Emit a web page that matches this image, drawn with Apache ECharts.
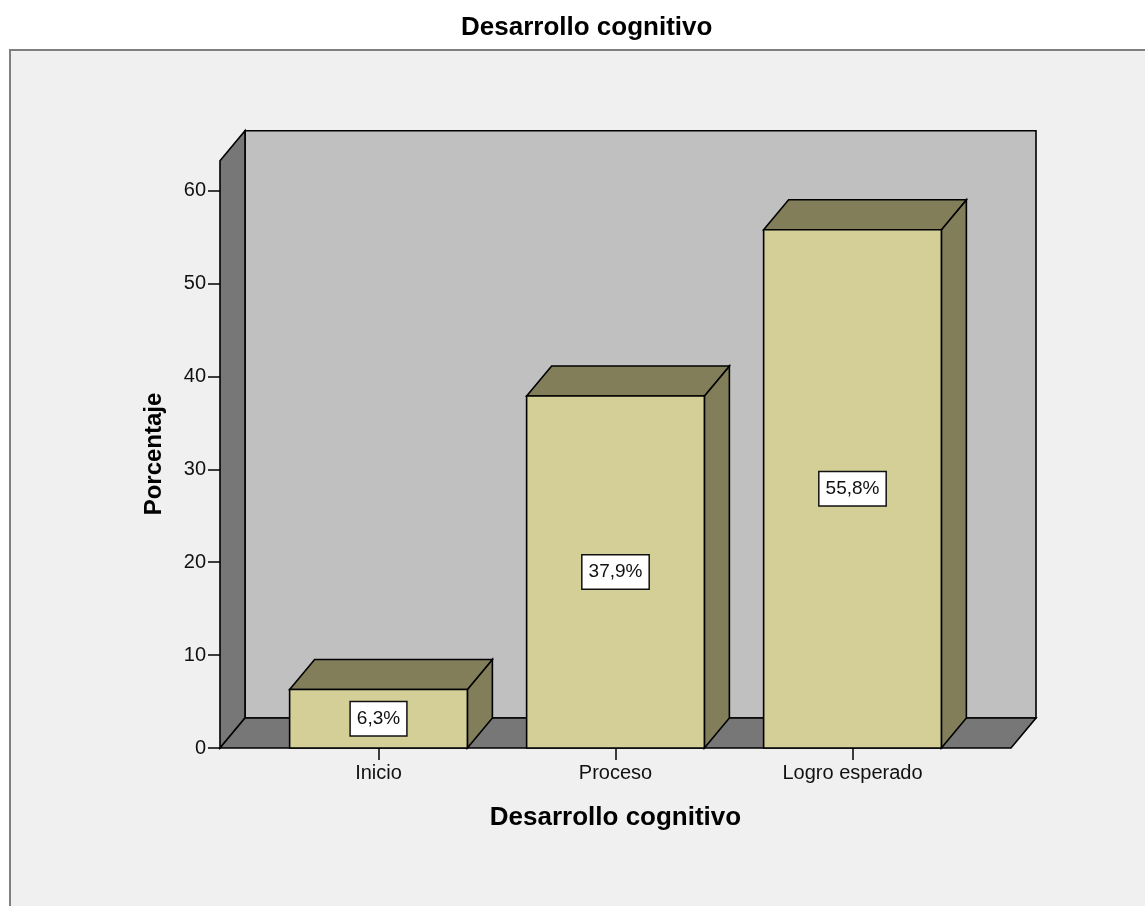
<!DOCTYPE html>
<html>
<head>
<meta charset="utf-8">
<script src="https://cdn.jsdelivr.net/npm/echarts@6/dist/echarts.min.js"></script>
<style>
  html, body { margin: 0; padding: 0; background: #ffffff; }
  #chart { width: 1145px; height: 906px; }
</style>
</head>
<body>
<div id="chart"></div>
<script>
// Chart text
const chartTitle = 'Desarrollo cognitivo';
const xAxisName = 'Desarrollo cognitivo';
const yAxisName = 'Porcentaje';

// Data
const categories = ['Inicio', 'Proceso', 'Logro esperado'];
const percentages = [6.3, 37.9, 55.8];

// Value axis ticks
const yMin = 0;
const yMax = 60;
const yInterval = 10;

// 3D look: depth offset of walls and bars, floor padding, wall height above top tick
const DX = 25, DY = 30;
const WALL_PAD = 40;
const WALL_EXT = 30;
const BAR_RATIO = 0.75;

const FONT = '"Liberation Sans", Arial, Helvetica, sans-serif';
const EDGE = { stroke: '#000000', lineWidth: 1.6, lineJoin: 'miter' };

function fmtPercent(v) {
  return v.toFixed(1).replace('.', ',') + '%';
}

// Back wall, left wall and floor, laid out from the grid's own rectangle
function renderWalls(params, api) {
  const cs = params.coordSys;
  const y0 = api.coord([0, yMin])[1];
  const xl = cs.x - WALL_PAD;
  const xr = cs.x + cs.width + WALL_PAD;
  const yt = cs.y - WALL_EXT;
  return {
    type: 'group',
    children: [
      { type: 'polygon', shape: { points: [[xl + DX, yt - DY], [xr + DX, yt - DY], [xr + DX, y0 - DY], [xl + DX, y0 - DY]] },
        style: Object.assign({ fill: '#c0c0c0' }, EDGE) },
      { type: 'polygon', shape: { points: [[xl, yt], [xl + DX, yt - DY], [xl + DX, y0 - DY], [xl, y0]] },
        style: Object.assign({ fill: '#777777' }, EDGE) },
      { type: 'polygon', shape: { points: [[xl, y0], [xl + DX, y0 - DY], [xr + DX, y0 - DY], [xr, y0]] },
        style: Object.assign({ fill: '#777777' }, EDGE) }
    ]
  };
}

// One box-shaped bar per category with its value label
function renderBar(params, api) {
  const idx = api.value(0);
  const val = api.value(1);
  const top = api.coord([idx, val]);
  const base = api.coord([idx, yMin]);
  const mid = api.coord([idx, val / 2]);
  const w = api.size([1, 0])[0] * BAR_RATIO;
  const xl = top[0] - w / 2;
  const xr = top[0] + w / 2;
  const yt = top[1];
  const y0 = base[1];
  return {
    type: 'group',
    children: [
      { type: 'polygon', shape: { points: [[xr, yt], [xr + DX, yt - DY], [xr + DX, y0 - DY], [xr, y0]] },
        style: Object.assign({ fill: '#827e5a' }, EDGE) },
      { type: 'polygon', shape: { points: [[xl, yt], [xl + DX, yt - DY], [xr + DX, yt - DY], [xr, yt]] },
        style: Object.assign({ fill: '#827e5a' }, EDGE) },
      { type: 'rect', shape: { x: xl, y: yt, width: w, height: y0 - yt },
        style: Object.assign({ fill: '#d3cf97' }, EDGE) },
      { type: 'text', x: mid[0], y: mid[1],
        style: {
          text: fmtPercent(val), fill: '#111111',
          fontFamily: FONT, fontSize: 19, lineHeight: 21,
          align: 'center', verticalAlign: 'middle',
          backgroundColor: '#ffffff', borderColor: '#111111', borderWidth: 1.5,
          padding: [6, 6, 6, 6]
        } }
    ]
  };
}

const chart = echarts.init(document.getElementById('chart'), null, { renderer: 'canvas' });

chart.setOption({
  backgroundColor: '#ffffff',
  animation: false,
  title: {
    text: chartTitle,
    left: 456,
    top: 10,
    textStyle: { fontFamily: FONT, fontSize: 26, fontWeight: 'bold', color: '#000000' }
  },
  graphic: [
    { type: 'rect', z: 0, shape: { x: 10, y: 50, width: 1200, height: 900 },
      style: { fill: '#f0f0f0', stroke: '#7f7f7f', lineWidth: 2 } },
    { type: 'text', z: 10, x: 154, y: 454, rotation: Math.PI / 2,
      style: { text: yAxisName, fontFamily: FONT, fontSize: 24, fontWeight: 'bold', fill: '#000000',
               align: 'center', verticalAlign: 'middle' } }
  ],
  grid: { left: 260, right: 174, top: 190.7, bottom: 158, containLabel: false },
  xAxis: {
    type: 'category',
    data: categories,
    axisLine: { show: false },
    axisTick: { show: true, alignWithLabel: true, length: 12, lineStyle: { color: '#000000', width: 1.5 } },
    axisLabel: { margin: 15, fontFamily: FONT, fontSize: 20, color: '#111111' },
    splitLine: { show: false },
    name: xAxisName,
    nameLocation: 'middle',
    nameGap: 57,
    nameTextStyle: { fontFamily: FONT, fontSize: 26, fontWeight: 'bold', color: '#000000' }
  },
  yAxis: {
    type: 'value',
    min: yMin,
    max: yMax,
    interval: yInterval,
    offset: WALL_PAD,
    axisLine: { show: false },
    axisTick: { show: true, length: 12, lineStyle: { color: '#000000', width: 1.5 } },
    axisLabel: { margin: 14, fontFamily: FONT, fontSize: 20, color: '#111111', padding: [5, 0, 0, 0] },
    splitLine: { show: false }
  },
  series: [
    {
      type: 'custom',
      name: 'walls',
      silent: true,
      z: 1,
      renderItem: renderWalls,
      data: [[0, yMin]],
      encode: { x: 0, y: 1 }
    },
    {
      type: 'custom',
      name: 'Porcentaje',
      z: 3,
      renderItem: renderBar,
      data: percentages.map((v, i) => [i, v]),
      encode: { x: 0, y: 1 }
    }
  ]
});
</script>
</body>
</html>
